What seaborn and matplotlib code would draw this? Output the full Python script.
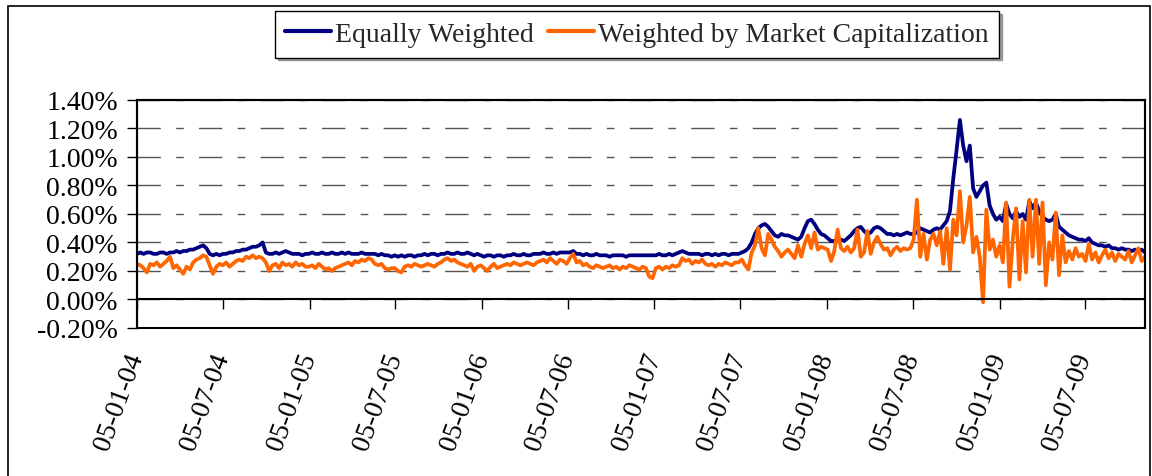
import matplotlib
matplotlib.use("Agg")
import matplotlib.pyplot as plt
import matplotlib.patches as mpatches
import pandas as pd
import seaborn as sns

# ============================
# Data (weekly readings, in %)
# ============================

START_DATE = "2004-01-05"

equal_weighted = [
    # 2004 H1
    0.32, 0.33, 0.32, 0.33, 0.33, 0.32, 0.32, 0.33, 0.33, 0.32, 0.33, 0.33, 0.34,
    0.33, 0.34, 0.34, 0.35, 0.35, 0.36, 0.37, 0.38, 0.36, 0.32, 0.31, 0.32, 0.31,
    # 2004 H2
    0.32, 0.32, 0.33, 0.33, 0.34, 0.34, 0.35, 0.35, 0.36, 0.37, 0.37, 0.38, 0.40,
    0.33, 0.32, 0.32, 0.33, 0.32, 0.33, 0.34, 0.33, 0.32, 0.32, 0.32, 0.31, 0.32,
    # 2005 H1
    0.32, 0.33, 0.32, 0.32, 0.33, 0.32, 0.32, 0.33, 0.32, 0.32, 0.33, 0.32, 0.33,
    0.32, 0.32, 0.32, 0.33, 0.32, 0.32, 0.32, 0.32, 0.31, 0.32, 0.31, 0.31, 0.30,
    # 2005 H2
    0.31, 0.30, 0.31, 0.30, 0.31, 0.31, 0.30, 0.31, 0.31, 0.32, 0.31, 0.32, 0.32,
    0.31, 0.32, 0.32, 0.33, 0.32, 0.32, 0.33, 0.32, 0.32, 0.33, 0.32, 0.31, 0.32,
    # 2006 H1
    0.31, 0.30, 0.31, 0.31, 0.30, 0.31, 0.31, 0.30, 0.31, 0.31, 0.32, 0.31, 0.31,
    0.32, 0.31, 0.31, 0.32, 0.32, 0.32, 0.33, 0.32, 0.32, 0.33, 0.32, 0.33, 0.33,
    # 2006 H2
    0.33, 0.33, 0.34, 0.32, 0.32, 0.31, 0.32, 0.31, 0.31, 0.32, 0.31, 0.31, 0.31,
    0.30, 0.31, 0.31, 0.31, 0.31, 0.30, 0.31, 0.31, 0.31, 0.31, 0.31, 0.31, 0.31,
    # 2007 H1
    0.31, 0.31, 0.32, 0.31, 0.31, 0.32, 0.31, 0.32, 0.33, 0.34, 0.33, 0.32, 0.32,
    0.32, 0.32, 0.31, 0.32, 0.32, 0.31, 0.32, 0.31, 0.32, 0.32, 0.31, 0.32, 0.32,
    # 2007 H2
    0.32, 0.33, 0.34, 0.36, 0.40, 0.46, 0.50, 0.52, 0.53, 0.51, 0.48, 0.45, 0.44,
    0.46, 0.45, 0.45, 0.44, 0.43, 0.42, 0.44, 0.50, 0.55, 0.56, 0.53, 0.49, 0.46,
    # 2008 H1
    0.45, 0.43, 0.41, 0.41, 0.42, 0.42, 0.41, 0.43, 0.45, 0.48, 0.50, 0.51, 0.48,
    0.46, 0.47, 0.50, 0.51, 0.50, 0.48, 0.46, 0.46, 0.45, 0.46, 0.45, 0.46, 0.47,
    # 2008 H2
    0.46, 0.46, 0.47, 0.50, 0.49, 0.48, 0.47, 0.49, 0.50, 0.49, 0.52, 0.55, 0.62,
    0.85, 1.05, 1.26, 1.08, 0.97, 1.08, 0.78, 0.72, 0.76, 0.80, 0.82, 0.66, 0.60,
    # 2009 H1
    0.56, 0.58, 0.55, 0.67, 0.60, 0.57, 0.62, 0.58, 0.60, 0.56, 0.69, 0.64, 0.68,
    0.62, 0.58, 0.56, 0.55, 0.56, 0.60, 0.51, 0.49, 0.47, 0.45, 0.44, 0.43, 0.42,
    # 2009 H2
    0.42, 0.41, 0.43, 0.40, 0.39, 0.38, 0.38, 0.37, 0.38, 0.36, 0.36, 0.35, 0.36,
    0.35, 0.35, 0.34, 0.35, 0.34, 0.35, 0.33,
]

cap_weighted = [
    # 2004 H1
    0.25, 0.24, 0.22, 0.19, 0.25, 0.24, 0.26, 0.23, 0.25, 0.27, 0.30, 0.22, 0.24,
    0.21, 0.18, 0.23, 0.21, 0.26, 0.28, 0.29, 0.31, 0.30, 0.24, 0.18, 0.23, 0.25,
    # 2004 H2
    0.24, 0.26, 0.23, 0.25, 0.27, 0.28, 0.27, 0.30, 0.29, 0.31, 0.29, 0.30, 0.29,
    0.26, 0.20, 0.24, 0.25, 0.22, 0.26, 0.24, 0.25, 0.23, 0.26, 0.24, 0.25, 0.23,
    # 2005 H1
    0.23, 0.24, 0.22, 0.25, 0.23, 0.21, 0.22, 0.20, 0.22, 0.23, 0.24, 0.25, 0.26,
    0.24, 0.27, 0.26, 0.28, 0.27, 0.29, 0.28, 0.25, 0.24, 0.25, 0.22, 0.21, 0.22,
    # 2005 H2
    0.22, 0.20, 0.19, 0.23, 0.24, 0.23, 0.25, 0.24, 0.23, 0.24, 0.25, 0.24, 0.23,
    0.25, 0.26, 0.28, 0.29, 0.27, 0.28, 0.26, 0.25, 0.24, 0.23, 0.25, 0.20, 0.23,
    # 2006 H1
    0.24, 0.22, 0.20, 0.23, 0.25, 0.22, 0.23, 0.24, 0.25, 0.24, 0.26, 0.25, 0.24,
    0.25, 0.26, 0.25, 0.24, 0.26, 0.27, 0.28, 0.26, 0.29, 0.27, 0.25, 0.28, 0.27,
    # 2006 H2
    0.25, 0.29, 0.32, 0.26, 0.27, 0.24, 0.25, 0.23, 0.22, 0.24, 0.23, 0.22, 0.23,
    0.24, 0.22, 0.23, 0.21, 0.23, 0.22, 0.24, 0.23, 0.22, 0.21, 0.23, 0.22, 0.16,
    # 2007 H1
    0.15, 0.22, 0.23, 0.21, 0.23, 0.22, 0.24, 0.23, 0.24, 0.29, 0.27, 0.28, 0.25,
    0.27, 0.26, 0.28, 0.25, 0.24, 0.25, 0.23, 0.25, 0.24, 0.26, 0.25, 0.24, 0.26,
    # 2007 H2
    0.26, 0.28, 0.24, 0.21, 0.33, 0.38, 0.50, 0.36, 0.31, 0.46, 0.42, 0.37, 0.34,
    0.30, 0.33, 0.35, 0.32, 0.29, 0.38, 0.30, 0.39, 0.45, 0.36, 0.47, 0.35, 0.37,
    # 2008 H1
    0.36, 0.35, 0.27, 0.34, 0.49, 0.36, 0.34, 0.37, 0.33, 0.36, 0.49, 0.30, 0.33,
    0.48, 0.32, 0.40, 0.44, 0.39, 0.35, 0.36, 0.31, 0.35, 0.37, 0.34, 0.36, 0.35,
    # 2008 H2
    0.36, 0.42, 0.70, 0.30, 0.46, 0.28, 0.42, 0.46, 0.38, 0.48, 0.25, 0.50, 0.21,
    0.56, 0.45, 0.76, 0.40, 0.52, 0.72, 0.33, 0.44, 0.30, -0.02, 0.63, 0.35, 0.42,
    # 2009 H1
    0.30, 0.38, 0.26, 0.68, 0.09, 0.42, 0.64, 0.14, 0.55, 0.19, 0.70, 0.30, 0.70,
    0.25, 0.68, 0.10, 0.40, 0.28, 0.61, 0.17, 0.45, 0.26, 0.34, 0.28, 0.36, 0.30,
    # 2009 H2
    0.32, 0.27, 0.39, 0.28, 0.33, 0.26, 0.31, 0.35, 0.29, 0.33, 0.27, 0.32, 0.30,
    0.28, 0.34, 0.26, 0.31, 0.36, 0.27, 0.30,
]

SERIES_NAMES = ["Equally Weighted", "Weighted by Market Capitalization"]
SERIES_COLORS = ["#000080", "#FF6600"]

X_TICK_LABELS = [
    "05-01-04", "05-07-04", "05-01-05", "05-07-05", "05-01-06", "05-07-06",
    "05-01-07", "05-07-07", "05-01-08", "05-07-08", "05-01-09", "05-07-09",
]
Y_TICKS = [-0.2, 0.0, 0.2, 0.4, 0.6, 0.8, 1.0, 1.2, 1.4]

# ============================
# Style
# ============================

sns.set_theme(style="white")
plt.rcParams["font.family"] = ["Liberation Serif", "DejaVu Serif"]

dates = pd.date_range(START_DATE, periods=len(equal_weighted), freq="7D")
df = pd.DataFrame({
    "date": dates,
    SERIES_NAMES[0]: equal_weighted,
    SERIES_NAMES[1]: cap_weighted,
}).melt(id_vars="date", var_name="series", value_name="value")

fig, ax = plt.subplots(figsize=(11.52, 4.77), dpi=100)
fig.subplots_adjust(left=0.1189, right=0.9939, top=0.7883, bottom=0.3103)

sns.lineplot(
    data=df, x="date", y="value", hue="series",
    hue_order=SERIES_NAMES, palette=SERIES_COLORS,
    estimator=None, linewidth=2.7, ax=ax,
)

ax.set_xlim(dates[0], dates[-1])
ax.set_ylim(Y_TICKS[0], Y_TICKS[-1])
ax.set_xlabel("")
ax.set_ylabel("")

# y axis
ax.set_yticks(Y_TICKS)
ax.set_yticklabels([f"{v:.2f}%" for v in Y_TICKS])
ax.tick_params(axis="y", left=True, direction="out", length=7.2, width=1,
               pad=6.5, labelsize=20, colors="black")

# x axis sits on the 0% line
tick_dates = pd.to_datetime(X_TICK_LABELS, format="%d-%m-%y")
ax.spines["bottom"].set_position(("data", 0))
ax.set_xticks(tick_dates)
ax.set_xticklabels(X_TICK_LABELS, rotation=70, ha="right", va="center",
                   rotation_mode="anchor")
ax.tick_params(axis="x", bottom=True, direction="out", length=7.2, width=1,
               pad=32, labelsize=20, colors="black")

for side in ["top", "right", "left", "bottom"]:
    ax.spines[side].set_color("black")
    ax.spines[side].set_linewidth(1.5)

# plot-area border (the bottom one too, since the axis spine moved)
ax.add_patch(mpatches.Rectangle((0, 0), 1, 1, transform=ax.transAxes, fill=False,
                                edgecolor="black", linewidth=1.5, clip_on=False,
                                zorder=3))

# dashed Excel-like gridlines
ax.set_axisbelow(True)
ax.yaxis.grid(True, linestyle=(0, (16.8, 11, 5.5, 11)), color="#555555",
              linewidth=1)

# legend on top
handles, labels = ax.get_legend_handles_labels()
ax.get_legend().remove()
leg = fig.legend(
    handles, labels, loc="center", bbox_to_anchor=(0.553, 0.926), ncol=2,
    frameon=True, fancybox=False, shadow=True, fontsize=20,
    handlelength=1.65, handletextpad=0.15, columnspacing=0.5, borderpad=0.38,
)
leg.get_frame().set_edgecolor("black")
leg.get_frame().set_linewidth(1)
for line in leg.get_lines():
    line.set_linewidth(3)

# outer chart frame
fig.patches.append(mpatches.Rectangle((0.007, -0.02), 0.991, 1.005,
                                      transform=fig.transFigure, fill=False,
                                      edgecolor="black", linewidth=1.2))

fig.savefig("out.png", dpi=100)
